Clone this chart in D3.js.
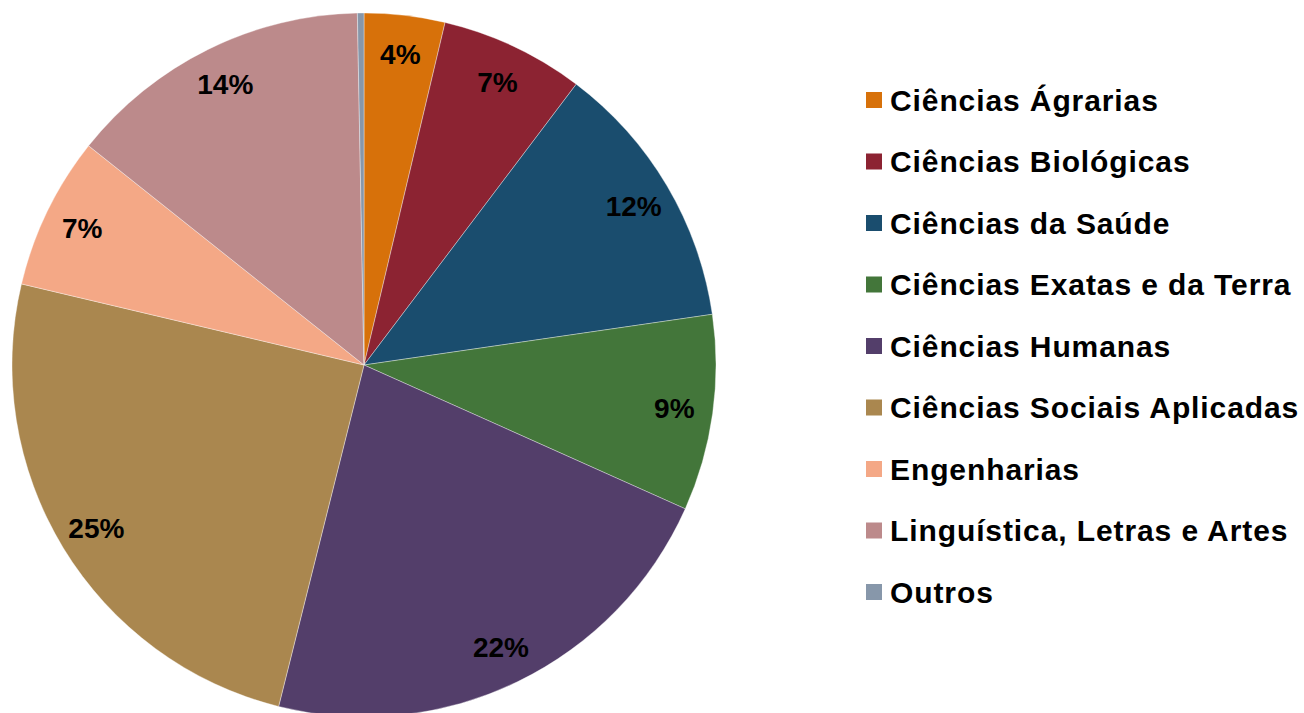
<!DOCTYPE html>
<html lang="pt">
<head>
    <meta charset="UTF-8">
    <title>Áreas do conhecimento</title>
    <script src="https://cdn.jsdelivr.net/npm/d3@7/dist/d3.min.js"></script>
    <style>
        body { margin: 0; background: #fff; }
        svg { display: block; font-family: "Liberation Sans", Arial, sans-serif; }
    </style>
</head>
<body>
<script>
    // data, in drawing order (clockwise from 12 o'clock)
    const categories = ["Ciências Ágrarias", "Ciências Biológicas", "Ciências da Saúde",
        "Ciências Exatas e da Terra", "Ciências Humanas", "Ciências Sociais Aplicadas",
        "Engenharias", "Linguística, Letras e Artes", "Outros"];
    const shares = [3.7, 6.6, 12.4, 9.0, 22.2, 24.8, 7.0, 14.0, 0.3];
    const labels = ["4%", "7%", "12%", "9%", "22%", "25%", "7%", "14%", ""];
    const colors = ["#D7710A", "#8C2332", "#1A4D6E", "#43763A", "#533E6A",
        "#AA874F", "#F4A886", "#BC8A8B", "#8797AA"];

    const width = 1304, height = 713;
    const cx = 364, cy = 365, radius = 352;

    const svg = d3.select("body").append("svg")
        .attr("width", width)
        .attr("height", height);

    const data = categories.map((c, i) => ({ name: c, value: shares[i], label: labels[i], color: colors[i] }));

    const pie = d3.pie().value(d => d.value).sort(null);
    const arcs = pie(data);
    const arc = d3.arc().innerRadius(0).outerRadius(radius);
    const labelArc = d3.arc().innerRadius(radius * 0.89).outerRadius(radius * 0.89);

    const g = svg.append("g").attr("transform", `translate(${cx},${cy})`);

    g.selectAll("path")
        .data(arcs)
        .enter()
        .append("path")
        .attr("d", arc)
        .attr("fill", d => d.data.color)
        .attr("stroke", "rgba(255,255,255,0.6)")
        .attr("stroke-width", 0.6);

    g.selectAll("text")
        .data(arcs)
        .enter()
        .append("text")
        .attr("transform", d => `translate(${labelArc.centroid(d)})`)
        .attr("text-anchor", "middle")
        .attr("dy", "0.36em")
        .style("font-size", "28px")
        .style("font-weight", "bold")
        .text(d => d.data.label);

    // legend
    const legendY = d3.scalePoint()
        .domain(categories)
        .range([100, 592]);

    const legend = svg.append("g").selectAll("g")
        .data(data)
        .enter()
        .append("g")
        .attr("transform", d => `translate(866,${legendY(d.name)})`);

    legend.append("rect")
        .attr("x", 0)
        .attr("y", -8)
        .attr("width", 16)
        .attr("height", 16)
        .attr("fill", d => d.color);

    legend.append("text")
        .attr("x", 24)
        .attr("dy", "0.36em")
        .style("font-size", "30px")
        .style("font-weight", "bold")
        .style("letter-spacing", "0.9px")
        .text(d => d.name);
</script>
</body>
</html>
